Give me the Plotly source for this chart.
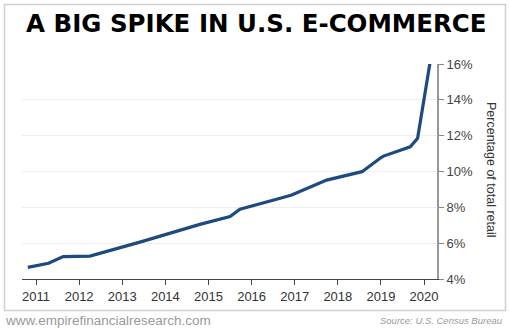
import plotly.graph_objects as go

# E-commerce share of total U.S. retail sales (decimal year, percent)
years = [2010.81, 2011.29, 2011.63, 2012.25, 2013.41, 2014.80, 2015.50, 2015.73,
         2016.58, 2016.93, 2017.74, 2018.56, 2018.98, 2019.06, 2019.68, 2019.85, 2020.14]
share_pct = [4.65, 4.88, 5.25, 5.28, 6.06, 7.05, 7.48, 7.89,
             8.45, 8.69, 9.52, 9.99, 10.74, 10.86, 11.38, 11.85, 16.1]

year_ticks = list(range(2011, 2021))
pct_ticks = [4, 6, 8, 10, 12, 14, 16]
pct_labels = [f"{v}%" for v in pct_ticks]

W, H = 510, 328
L, R, T, B = 22, 73, 64, 49
pw, ph = W - L - R, H - T - B


def px_x(x):
    return (x - L) / pw


def px_y(y):
    return (H - B - y) / ph


fig = go.Figure()
fig.add_trace(go.Scatter(
    x=years, y=share_pct, mode="lines",
    line=dict(color="#1d4a7f", width=3.2),
    hoverinfo="skip",
))

fig.update_layout(
    width=W, height=H,
    margin=dict(l=L, r=R, t=T, b=B, pad=0),
    paper_bgcolor="white", plot_bgcolor="white",
    showlegend=False,
    font=dict(family="Liberation Sans, Arial, sans-serif", color="#333"),
    xaxis=dict(
        range=[2010.675, 2020.30], tickvals=year_ticks,
        ticks="outside", ticklen=5, tickcolor="#444", tickwidth=1,
        showline=True, linecolor="#444", linewidth=1,
        showgrid=False, zeroline=False,
        tickfont=dict(size=13, color="#333"),
    ),
    yaxis=dict(
        range=[4, 16], side="right", tickvals=pct_ticks, ticktext=pct_labels,
        ticks="outside", ticklen=5, tickcolor="#888", tickwidth=1,
        showline=True, linecolor="#999", linewidth=2,
        showgrid=True, gridcolor="#eeeeee", gridwidth=1,
        zeroline=False,
        tickfont=dict(size=13, color="#444"),
    ),
    shapes=[dict(
        type="rect", xref="paper", yref="paper",
        x0=px_x(4.5), x1=px_x(505.5), y0=px_y(310.5), y1=px_y(4.5),
        line=dict(color="#d0d0d0", width=1.5), layer="below",
    )],
    annotations=[
        dict(text="A BIG SPIKE IN U.S. E-COMMERCE", xref="paper", yref="paper",
             x=px_x(256), y=px_y(23.5), xanchor="center", yanchor="middle",
             showarrow=False,
             font=dict(family="DejaVu Sans, sans-serif", size=24.5,
                       color="black", weight="bold")),
        dict(text="Percentage of total retail", xref="paper", yref="paper",
             x=px_x(491), y=px_y(170), xanchor="center", yanchor="middle",
             textangle=90, showarrow=False,
             font=dict(size=12.5, color="#333")),
        dict(text="www.empirefinancialresearch.com", xref="paper", yref="paper",
             x=px_x(3), y=px_y(320), xanchor="left", yanchor="middle",
             showarrow=False,
             font=dict(size=13.5, color="#9a9a9a")),
        dict(text="<i>Source: U.S. Census Bureau</i>", xref="paper", yref="paper",
             x=px_x(505), y=px_y(320), xanchor="right", yanchor="middle",
             showarrow=False,
             font=dict(size=9.5, color="#9a9a9a")),
    ],
)

fig.write_html("out.html")
